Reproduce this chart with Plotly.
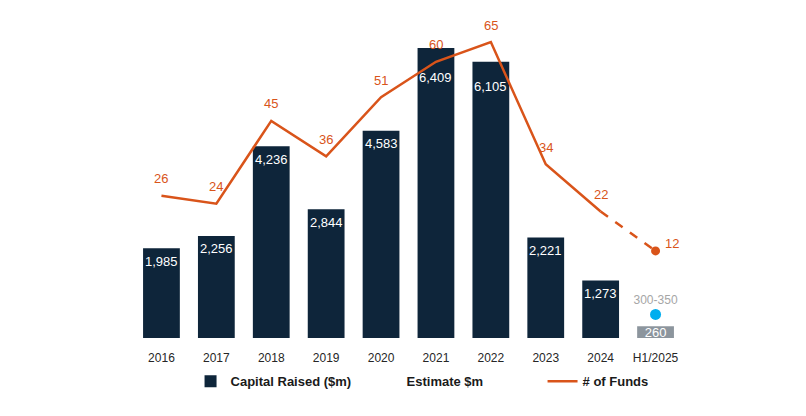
import plotly.graph_objects as go

years = ["2016", "2017", "2018", "2019", "2020", "2021", "2022", "2023", "2024"]
capital = [1985, 2256, 4236, 2844, 4583, 6409, 6105, 2221, 1273]
est_cat = ["H1/2025"]
est_capital = [260]
est_range_label = ["300-350"]
est_range_pos = [520]
fund_years = ["2016", "2017", "2018", "2019", "2020", "2021", "2022", "2023", "2024"]
funds = [26, 24, 45, 36, 51, 60, 65, 34, 22]
proj_years = ["2024", "H1/2025"]
proj_funds = [22, 12]

all_cats = years + est_cat

NAVY = "#0E253A"
ORANGE = "#D9541A"
GREY = "#8C959D"
BLUE = "#00AEEF"
FONT = "Liberation Sans, Arial, sans-serif"

# label placement (pixels below bar top), a few moved down to clear the line
label_drop_default = 13
label_drop_special = {"2021": 29, "2022": 25}

fig = go.Figure()

fig.add_trace(go.Bar(
    x=years, y=capital, name="Capital Raised ($m)",
    marker=dict(color=NAVY, line=dict(width=0)), hoverinfo="skip",
))

fig.add_trace(go.Scatter(
    x=[None], y=[None], name="Estimate $m", mode="lines",
    line=dict(color="rgba(0,0,0,0)", width=0), hoverinfo="skip",
))

fig.add_trace(go.Scatter(
    x=fund_years, y=funds, name="# of Funds", mode="lines", yaxis="y2",
    line=dict(color=ORANGE, width=2.5), hoverinfo="skip",
))

fig.add_trace(go.Scatter(
    x=proj_years, y=proj_funds, mode="lines", yaxis="y2", showlegend=False,
    line=dict(color=ORANGE, width=2.5, dash="dash"), hoverinfo="skip",
))

fig.add_trace(go.Scatter(
    x=proj_years[-1:], y=proj_funds[-1:], mode="markers", yaxis="y2", showlegend=False,
    marker=dict(color=ORANGE, size=9), hoverinfo="skip",
))

fig.add_trace(go.Bar(
    x=est_cat, y=est_capital, showlegend=False,
    marker=dict(color=GREY, line=dict(width=0)),
    texttemplate="%{y:,}", textposition="inside", insidetextanchor="middle",
    textangle=0, textfont=dict(color="white", size=13, family=FONT),
    constraintext="none", hoverinfo="skip",
))

fig.add_trace(go.Scatter(
    x=est_cat, y=est_range_pos, mode="markers+text", showlegend=False,
    marker=dict(color=BLUE, size=11),
    text=est_range_label, textposition="top center",
    textfont=dict(color="#A6A6A6", size=12, family=FONT), hoverinfo="skip",
))

annotations = []
for c, v in zip(years, capital):
    annotations.append(dict(
        x=all_cats.index(c), y=v, xref="x", yref="y", text=f"{v:,}", showarrow=False,
        yanchor="middle", yshift=-label_drop_special.get(c, label_drop_default),
        font=dict(color="white", size=13, family=FONT),
    ))
for c, v in zip(fund_years, funds):
    annotations.append(dict(
        x=all_cats.index(c), y=v, xref="x", yref="y2", text=str(v), showarrow=False,
        yshift=17, font=dict(color=ORANGE, size=13, family=FONT),
    ))
annotations.append(dict(
    x=all_cats.index(proj_years[-1]), y=proj_funds[-1], xref="x", yref="y2",
    text=str(proj_funds[-1]), showarrow=False, xshift=16, yshift=7,
    font=dict(color=ORANGE, size=13, family=FONT),
))

# page body adds an 8px offset, so the figure is 798x408
fig.update_layout(
    width=798, height=408,
    margin=dict(l=125.5, r=122.5, t=12, b=78),
    plot_bgcolor="white", paper_bgcolor="white",
    barmode="overlay", bargap=0.33,
    font=dict(family=FONT, size=12, color="#262626"),
    xaxis=dict(
        type="category", categoryorder="array", categoryarray=all_cats,
        range=[-0.5, 9.5], showgrid=False, showline=False, zeroline=False,
        ticks="outside", ticklen=9, tickcolor="rgba(0,0,0,0)",
        tickfont=dict(size=12, color="#262626", family=FONT),
    ),
    yaxis=dict(range=[0, 7028], visible=False, showgrid=False, zeroline=False),
    yaxis2=dict(range=[-10.1, 70.6], overlaying="y", visible=False,
                showgrid=False, zeroline=False),
    showlegend=True,
    legend=dict(
        orientation="h", x=0.103, xanchor="left", y=-0.089, yanchor="top",
        entrywidth=131, entrywidthmode="pixels",
        font=dict(size=13, color="#1A1A1A", family=FONT, weight="bold"),
        bgcolor="rgba(0,0,0,0)", traceorder="normal",
    ),
    annotations=annotations,
)

fig.write_html("out.html")
